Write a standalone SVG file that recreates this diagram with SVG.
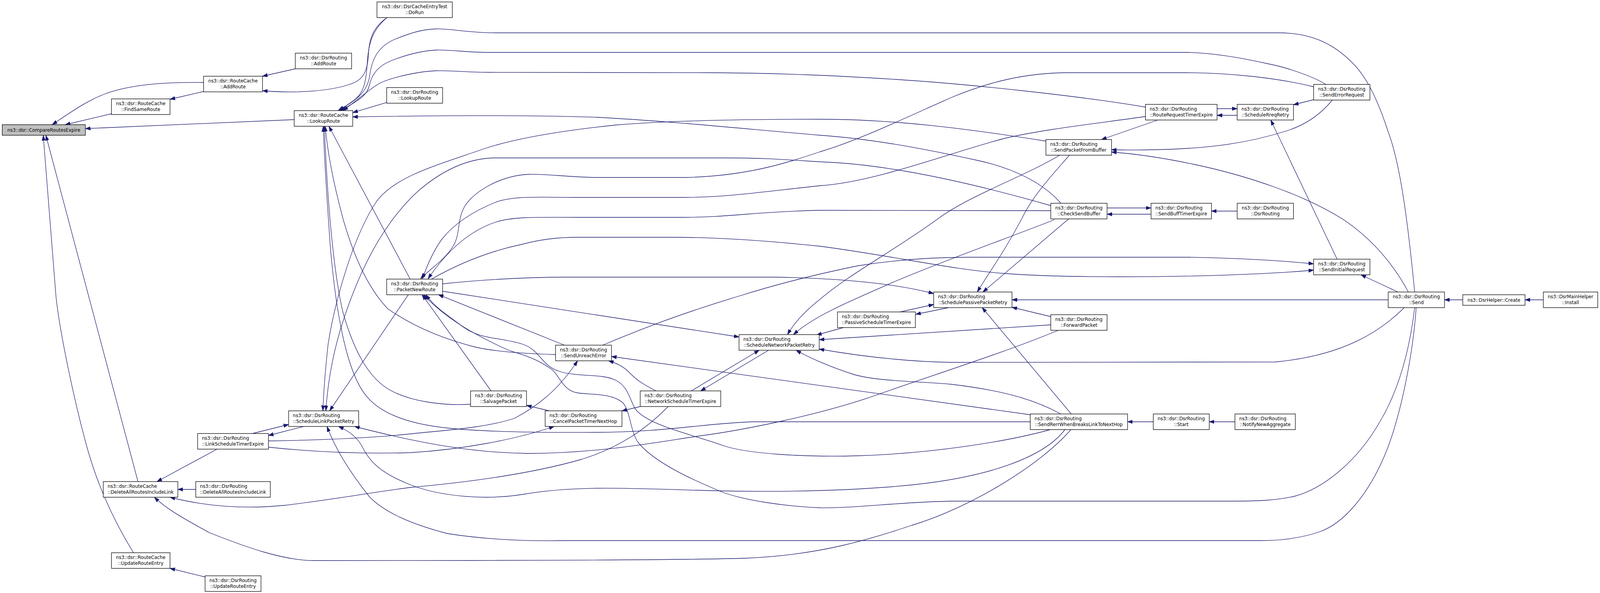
<svg xmlns="http://www.w3.org/2000/svg" width="4291" height="1517" viewBox="0 0 4291 1517">
<style>
.e{fill:none;stroke:#191970;stroke-width:1.3}
.n rect{fill:#ffffff;stroke:#000000;stroke-width:1.3}
.g rect{fill:#bfbfbf;stroke:#000000;stroke-width:1.3}
text{font-family:"DejaVu Sans","Liberation Sans",sans-serif;font-size:12.4px;fill:#000000}
.c{text-anchor:middle}
</style>
<defs>
<marker id="a" markerUnits="userSpaceOnUse" markerWidth="14" markerHeight="10" viewBox="0 0 14 10" refX="13.5" refY="5" orient="auto">
<path d="M0,0.5 L13.5,5 L0,9.5 z" fill="#191970" stroke="#191970" stroke-width="1"/>
</marker>
</defs>
<rect x="0" y="0" width="4291" height="1517" fill="#ffffff"/>
<g id="diagram" transform="matrix(0.95455 0 0 1 0 0)">
<g id="edges" class="e" marker-end="url(#a)">
<path d="M299,291 L175,319"/>
<path d="M546,211 C480,210 360,212 282,240 C230,259 185,290 140,319"/>
<path d="M789,306 L229,329"/>
<path d="M370,1232 L123,346"/>
<path d="M358,1414 C310,1340 265,1250 235,1150 C200,1030 160,850 150,757 L116,346"/>
<path d="M546,234 L456,254"/>
<path d="M792,176 L704,195"/>
<path d="M1038,45 C1000,70 990,100 988,140 C986,180 975,205 940,215 C890,232 800,240 704,232"/>
<path d="M1038,45 C1000,75 988,110 985,160 C982,210 975,235 955,252 C940,264 925,272 910,283"/>
<path d="M3794,747 C3775,560 3755,420 3724,340 C3700,270 3670,200 3626,160 C3580,115 3520,84 3430,84 L1330,84 C1250,84 1210,73 1170,74 C1130,75 1100,85 1060,100 C1015,118 998,150 992,190 C986,240 950,258 907,283"/>
<path d="M3556,216 C3520,195 3450,172 3400,163 C3340,150 3260,135 3180,134 L1310,134 C1250,134 1210,127 1170,128 C1130,130 1090,140 1050,155 C1005,172 995,200 990,220 C984,248 950,262 914,283"/>
<path d="M3072,274 C2900,246 2600,215 2400,203 C2250,194 2100,187 1900,186 L1310,185 C1250,185 1210,180 1170,181 C1130,182 1060,195 1020,212 C990,228 960,255 920,283"/>
<path d="M1037,262 L946,288"/>
<path d="M2845,520 C2800,470 2720,430 2620,410 C2500,385 2350,356 2200,346 C2000,330 1800,310 1600,300 C1450,295 1250,294 946,299"/>
<path d="M1100,714 L882,323"/>
<path d="M1490,907 C1420,905 1330,900 1275,888 C1180,865 1100,830 1040,790 C990,740 950,660 920,560 C895,470 880,400 872,323"/>
<path d="M1262,1034 C1200,1038 1110,1030 1050,1000 C990,970 950,900 920,800 C895,700 878,520 870,323"/>
<path d="M2763,1079 L2020,1079 C1900,1082 1780,1106 1600,1106 C1450,1107 1300,1105 1200,1095 C1100,1085 1020,1060 980,1010 C930,950 900,800 885,620 C878,520 870,420 867,323"/>
<path d="M582,1149 L421,1232"/>
<path d="M525,1252 L477,1252"/>
<path d="M1792,1040 C1730,1100 1660,1145 1560,1175 C1450,1205 1300,1230 1100,1247 C980,1262 880,1280 760,1293 C650,1303 550,1295 456,1272"/>
<path d="M2872,1099 C2790,1190 2600,1300 2445,1344 C2330,1380 2200,1420 2000,1428 C1800,1434 1000,1434 842,1434 C760,1434 660,1400 560,1362 C500,1330 450,1305 414,1272"/>
<path d="M550,1476 L456,1454"/>
<path d="M677,1109 L774,1086"/>
<path d="M814,1091 L720,1114"/>
<path d="M2805,361 C2600,330 2400,305 2200,305 C2000,305 1800,308 1650,320 C1500,335 1380,355 1300,380 C1180,420 1060,450 1010,515 C950,600 900,760 880,880 C872,950 868,1000 866,1051"/>
<path d="M2818,526 C2650,480 2400,420 2200,414 C2100,408 2050,404 1950,404 L1330,404 C1250,404 1180,440 1120,490 C1040,560 980,660 935,780 C900,870 880,960 874,1051"/>
<path d="M1095,754 L884,1051"/>
<path d="M2838,845 C2700,900 2500,960 2340,1014 C2200,1060 2000,1100 1870,1116 C1750,1133 1600,1160 1415,1160 C1280,1158 1150,1140 951,1091"/>
<path d="M2856,1099 C2800,1170 2650,1220 2450,1240 C2300,1255 2100,1260 1900,1255 C1700,1250 1550,1240 1400,1265 C1300,1280 1180,1270 1100,1240 C1020,1210 990,1180 970,1140 C955,1115 930,1100 908,1091"/>
<path d="M3798,787 C3790,900 3760,1050 3720,1150 C3670,1270 3600,1340 3540,1360 C3480,1380 3420,1383 3380,1383 L1520,1383 C1400,1385 1300,1380 1200,1365 C1100,1340 1030,1310 990,1270 C940,1210 900,1150 877,1091"/>
<path d="M720,1128 C850,1126 1000,1120 1100,1110 C1200,1100 1300,1095 1380,1070 C1460,1030 1510,980 1549,923"/>
<path d="M720,1144 C830,1155 950,1162 1100,1158 C1240,1150 1380,1125 1486,1091"/>
<path d="M3523,222 C3430,200 3300,186 3182,186 L2866,186 C2750,186 2650,210 2550,250 C2420,305 2300,360 2200,388 C2100,420 2000,450 1840,454 L1600,454 C1520,453 1460,444 1417,446 C1340,450 1270,490 1245,530 C1225,565 1235,600 1215,630 C1190,668 1150,690 1128,713"/>
<path d="M3072,298 C2950,315 2800,330 2690,355 C2550,390 2350,465 2200,475 C2050,490 1950,505 1836,505 L1549,505 C1450,505 1380,500 1330,517 C1270,540 1220,570 1185,612 C1160,645 1145,680 1133,713"/>
<path d="M2818,539 L2200,538 C2050,540 1950,556 1836,556 L1549,556 C1450,556 1380,553 1330,568 C1260,590 1200,640 1148,713"/>
<path d="M1317,1000 L1132,754"/>
<path d="M3794,787 C3780,900 3750,1000 3700,1080 C3640,1180 3550,1250 3470,1270 C3420,1280 3380,1282 3300,1282 L2551,1282 C2400,1285 2300,1300 2200,1299 C2100,1295 2000,1280 1940,1260 C1850,1225 1750,1180 1710,1130 C1690,1100 1690,1050 1670,1030 C1640,1005 1580,1010 1549,1005 C1510,1000 1500,960 1480,945 C1420,905 1380,905 1350,890 C1260,850 1190,810 1136,754"/>
<path d="M2817,1099 C2700,1130 2500,1160 2300,1166 C2150,1170 2000,1160 1940,1140 C1850,1110 1750,1090 1710,1053 C1690,1035 1690,990 1650,972 C1610,955 1550,965 1500,950 C1450,935 1450,895 1400,880 C1340,862 1290,870 1240,835 C1200,805 1170,790 1142,754"/>
<path d="M1514,883 L1176,754"/>
<path d="M1157,714 C1220,680 1300,645 1400,625 C1450,612 1500,607 1549,607 L1801,607 C1950,607 2100,620 2200,630 C2400,655 2550,690 2700,700 C2800,707 2900,708 3000,708 C3200,708 3400,702 3523,691"/>
<path d="M1616,883 C1700,850 1800,810 1980,758 C2100,722 2200,700 2300,680 C2400,665 2500,658 2600,658 L3191,658 C3300,660 3420,665 3523,675"/>
<path d="M1187,726 C1300,715 1400,709 1521,709 L2082,709 C2250,712 2400,725 2504,751"/>
<path d="M1187,745 L1982,862"/>
<path d="M1473,1051 L1412,1037"/>
<path d="M1717,1040 L1668,1051"/>
<path d="M1759,1000 C1730,985 1710,975 1690,955 C1670,935 1650,928 1632,923"/>
<path d="M2763,1061 L1640,912"/>
<path d="M1854,1000 L2036,896"/>
<path d="M2061,896 L1879,1000"/>
<path d="M2842,397 C2750,450 2600,500 2515,560 C2400,640 2280,700 2200,765 C2160,795 2130,825 2112,856"/>
<path d="M2828,562 C2700,610 2550,660 2400,720 C2280,770 2180,810 2128,856"/>
<path d="M2262,838 L2190,857"/>
<path d="M2818,831 L2197,869"/>
<path d="M3766,787 C3700,850 3600,910 3420,926 L2551,927 C2430,925 2300,910 2197,893"/>
<path d="M2845,1059 C2780,1025 2700,1000 2551,983 C2450,975 2350,975 2290,958 C2230,940 2170,915 2135,896"/>
<path d="M2868,397 C2820,450 2770,500 2740,560 C2690,650 2650,700 2621,747"/>
<path d="M2866,560 L2636,747"/>
<path d="M2414,798 L2504,779"/>
<path d="M2544,787 L2456,804"/>
<path d="M2818,810 L2714,786"/>
<path d="M2873,1059 L2634,787"/>
<path d="M3723,767 L2714,767"/>
<path d="M3105,307 L2954,357"/>
<path d="M3573,256 C3540,295 3500,320 3450,335 C3350,365 3250,380 3100,383 C3050,384 3020,384 2981,383"/>
<path d="M3777,747 C3740,680 3680,610 3600,560 C3500,500 3350,450 3200,420 C3110,402 3040,393 2981,389"/>
<path d="M2969,532 L3087,532"/>
<path d="M3087,548 L2969,548"/>
<path d="M3318,540 L3249,540"/>
<path d="M3264,278 L3318,278"/>
<path d="M3318,295 L3264,295"/>
<path d="M3523,255 L3469,268"/>
<path d="M3586,663 L3408,307"/>
<path d="M3749,747 L3650,703"/>
<path d="M3093,1079 L3024,1079"/>
<path d="M3312,1079 L3243,1079"/>
<path d="M3923,767 L3874,767"/>
<path d="M4139,767 L4090,767"/>
</g>
<g id="n1" class="g"><rect x="6" y="319" width="223" height="27"/><text class="c" x="117.5" y="337">ns3::dsr::CompareRoutesExpire</text></g>
<g id="n2" class="n"><rect x="299" y="253" width="157" height="40"/><text class="c" x="377.5" y="269.5">ns3::dsr::RouteCache</text><text class="c" x="377.5" y="284.5">::FindSameRoute</text></g>
<g id="n3" class="n"><rect x="546" y="195" width="158" height="40"/><text class="c" x="625" y="211.5">ns3::dsr::RouteCache</text><text class="c" x="625" y="226.5">::AddRoute</text></g>
<g id="n4" class="n"><rect x="792" y="136" width="151" height="40"/><text class="c" x="867.5" y="152.5">ns3::dsr::DsrRouting</text><text class="c" x="867.5" y="167.5">::AddRoute</text></g>
<g id="n5" class="n"><rect x="1011" y="5" width="202" height="40"/><text class="c" x="1112" y="21.5">ns3::dsr::DsrCacheEntryTest</text><text class="c" x="1112" y="36.5">::DoRun</text></g>
<g id="n6" class="n"><rect x="789" y="283" width="157" height="40"/><text class="c" x="867.5" y="299.5">ns3::dsr::RouteCache</text><text class="c" x="867.5" y="314.5">::LookupRoute</text></g>
<g id="n7" class="n"><rect x="1037" y="224" width="150" height="40"/><text class="c" x="1112" y="240.5">ns3::dsr::DsrRouting</text><text class="c" x="1112" y="255.5">::LookupRoute</text></g>
<g id="n8" class="n"><rect x="1037" y="714" width="150" height="40"/><text class="c" x="1112" y="730.5">ns3::dsr::DsrRouting</text><text class="c" x="1112" y="745.5">::PacketNewRoute</text></g>
<g id="n9" class="n"><rect x="774" y="1051" width="188" height="40"/><text x="785.5" y="1067.5">ns3::dsr::DsrRouting</text><text class="c" x="868" y="1082.5">::ScheduleLinkPacketRetry</text></g>
<g id="n10" class="n"><rect x="530" y="1109" width="190" height="40"/><text x="541.5" y="1125.5">ns3::dsr::DsrRouting</text><text class="c" x="625" y="1140.5">::LinkScheduleTimerExpire</text></g>
<g id="n11" class="n"><rect x="277" y="1232" width="200" height="40"/><text x="288.5" y="1248.5">ns3::dsr::RouteCache</text><text class="c" x="377" y="1263.5">::DeleteAllRoutesIncludeLink</text></g>
<g id="n12" class="n"><rect x="525" y="1232" width="200" height="40"/><text x="536.5" y="1248.5">ns3::dsr::DsrRouting</text><text class="c" x="625" y="1263.5">::DeleteAllRoutesIncludeLink</text></g>
<g id="n13" class="n"><rect x="299" y="1414" width="157" height="40"/><text class="c" x="377.5" y="1430.5">ns3::dsr::RouteCache</text><text class="c" x="377.5" y="1445.5">::UpdateRouteEntry</text></g>
<g id="n14" class="n"><rect x="550" y="1473" width="150" height="40"/><text class="c" x="625" y="1489.5">ns3::dsr::DsrRouting</text><text class="c" x="625" y="1504.5">::UpdateRouteEntry</text></g>
<g id="n15" class="n"><rect x="1490" y="883" width="150" height="40"/><text class="c" x="1565" y="899.5">ns3::dsr::DsrRouting</text><text class="c" x="1565" y="914.5">::SendUnreachError</text></g>
<g id="n16" class="n"><rect x="1262" y="1000" width="150" height="40"/><text class="c" x="1337" y="1016.5">ns3::dsr::DsrRouting</text><text class="c" x="1337" y="1031.5">::SalvagePacket</text></g>
<g id="n17" class="n"><rect x="1462" y="1051" width="206" height="40"/><text x="1473.5" y="1067.5">ns3::dsr::DsrRouting</text><text class="c" x="1565" y="1082.5">::CancelPacketTimerNextHop</text></g>
<g id="n18" class="n"><rect x="1717" y="1000" width="216" height="40"/><text x="1728.5" y="1016.5">ns3::dsr::DsrRouting</text><text class="c" x="1825" y="1031.5">::NetworkScheduleTimerExpire</text></g>
<g id="n19" class="n"><rect x="1982" y="856" width="215" height="40"/><text x="1993.5" y="872.5">ns3::dsr::DsrRouting</text><text class="c" x="2089.5" y="887.5">::ScheduleNetworkPacketRetry</text></g>
<g id="n20" class="n"><rect x="2246" y="798" width="209" height="40"/><text x="2257.5" y="814.5">ns3::dsr::DsrRouting</text><text class="c" x="2350.5" y="829.5">::PassiveScheduleTimerExpire</text></g>
<g id="n21" class="n"><rect x="2504" y="747" width="210" height="40"/><text x="2515.5" y="763.5">ns3::dsr::DsrRouting</text><text class="c" x="2609" y="778.5">::SchedulePassivePacketRetry</text></g>
<g id="n22" class="n"><rect x="2805" y="357" width="176" height="40"/><text x="2816.5" y="373.5">ns3::dsr::DsrRouting</text><text class="c" x="2893" y="388.5">::SendPacketFromBuffer</text></g>
<g id="n23" class="n"><rect x="2818" y="520" width="151" height="40"/><text class="c" x="2893.5" y="536.5">ns3::dsr::DsrRouting</text><text class="c" x="2893.5" y="551.5">::CheckSendBuffer</text></g>
<g id="n24" class="n"><rect x="2818" y="805" width="151" height="40"/><text class="c" x="2893.5" y="821.5">ns3::dsr::DsrRouting</text><text class="c" x="2893.5" y="836.5">::ForwardPacket</text></g>
<g id="n25" class="n"><rect x="2763" y="1059" width="261" height="40"/><text x="2774.5" y="1075.5">ns3::dsr::DsrRouting</text><text class="c" x="2893.5" y="1090.5">::SendRerrWhenBreaksLinkToNextHop</text></g>
<g id="n26" class="n"><rect x="3072" y="267" width="192" height="40"/><text x="3083.5" y="283.5">ns3::dsr::DsrRouting</text><text class="c" x="3168" y="298.5">::RouteRequestTimerExpire</text></g>
<g id="n27" class="n"><rect x="3087" y="520" width="162" height="40"/><text x="3098.5" y="536.5">ns3::dsr::DsrRouting</text><text class="c" x="3168" y="551.5">::SendBuffTimerExpire</text></g>
<g id="n28" class="n"><rect x="3093" y="1059" width="150" height="40"/><text class="c" x="3168" y="1075.5">ns3::dsr::DsrRouting</text><text class="c" x="3168" y="1090.5">::Start</text></g>
<g id="n29" class="n"><rect x="3318" y="267" width="151" height="40"/><text x="3329.5" y="283.5">ns3::dsr::DsrRouting</text><text class="c" x="3393.5" y="298.5">::ScheduleRreqRetry</text></g>
<g id="n30" class="n"><rect x="3318" y="520" width="151" height="40"/><text class="c" x="3393.5" y="536.5">ns3::dsr::DsrRouting</text><text class="c" x="3393.5" y="551.5">::DsrRouting</text></g>
<g id="n31" class="n"><rect x="3312" y="1059" width="162" height="40"/><text x="3323.5" y="1075.5">ns3::dsr::DsrRouting</text><text class="c" x="3393" y="1090.5">::NotifyNewAggregate</text></g>
<g id="n32" class="n"><rect x="3523" y="216" width="151" height="40"/><text class="c" x="3598.5" y="232.5">ns3::dsr::DsrRouting</text><text class="c" x="3598.5" y="247.5">::SendErrorRequest</text></g>
<g id="n33" class="n"><rect x="3523" y="663" width="151" height="40"/><text class="c" x="3598.5" y="679.5">ns3::dsr::DsrRouting</text><text class="c" x="3598.5" y="694.5">::SendInitialRequest</text></g>
<g id="n34" class="n"><rect x="3723" y="747" width="151" height="40"/><text class="c" x="3798.5" y="763.5">ns3::dsr::DsrRouting</text><text class="c" x="3798.5" y="778.5">::Send</text></g>
<g id="n35" class="n"><rect x="3923" y="754" width="167" height="27"/><text class="c" x="4006.5" y="772">ns3::DsrHelper::Create</text></g>
<g id="n36" class="n"><rect x="4139" y="747" width="146" height="40"/><text class="c" x="4212" y="763.5">ns3::DsrMainHelper</text><text class="c" x="4212" y="778.5">::Install</text></g>
</g>
</svg>
